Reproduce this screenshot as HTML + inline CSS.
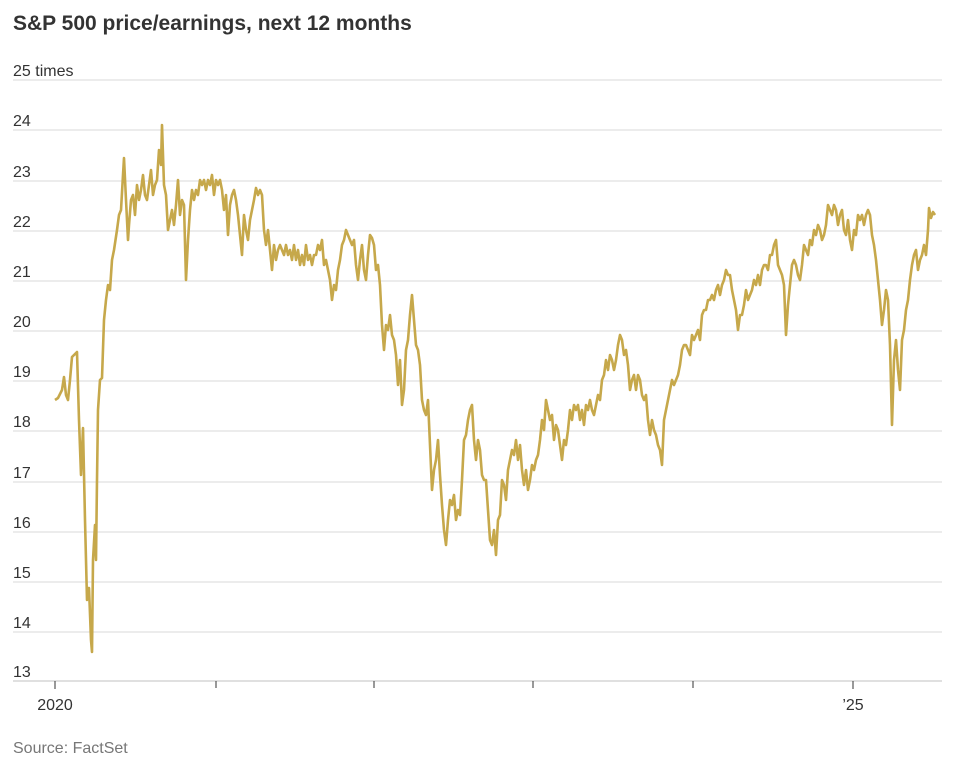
<!DOCTYPE html>
<html><head><meta charset="utf-8"><style>
body{margin:0;background:#fff;width:959px;height:767px;overflow:hidden;font-family:"Liberation Sans",sans-serif}
</style></head><body>
<svg width="959" height="767" xmlns="http://www.w3.org/2000/svg">
<text x="13" y="30" font-family="Liberation Sans, sans-serif" font-weight="bold" font-size="21" fill="#333">S&amp;P 500 price/earnings, next 12 months</text>
<g stroke="#e6e6e6" stroke-width="1.5">
<line x1="13" x2="942" y1="80" y2="80"/><line x1="13" x2="942" y1="130" y2="130"/><line x1="13" x2="942" y1="181" y2="181"/><line x1="13" x2="942" y1="231" y2="231"/><line x1="13" x2="942" y1="281" y2="281"/><line x1="13" x2="942" y1="331" y2="331"/><line x1="13" x2="942" y1="381" y2="381"/><line x1="13" x2="942" y1="431" y2="431"/><line x1="13" x2="942" y1="482" y2="482"/><line x1="13" x2="942" y1="532" y2="532"/><line x1="13" x2="942" y1="582" y2="582"/><line x1="13" x2="942" y1="632" y2="632"/>
</g>
<line x1="13" x2="942" y1="681" y2="681" stroke="#e0e0e0" stroke-width="2"/>
<g stroke="#333" stroke-width="1"><line x1="55" x2="55" y1="681" y2="689"/><line x1="216" x2="216" y1="681" y2="688"/><line x1="374" x2="374" y1="681" y2="688"/><line x1="533" x2="533" y1="681" y2="688"/><line x1="693" x2="693" y1="681" y2="688"/><line x1="853" x2="853" y1="681" y2="689"/></g>
<g font-family="Liberation Sans, sans-serif" font-size="16" fill="#333">
<text x="13" y="76">25 times</text><text x="13" y="126">24</text><text x="13" y="177">23</text><text x="13" y="227">22</text><text x="13" y="277">21</text><text x="13" y="327">20</text><text x="13" y="377">19</text><text x="13" y="427">18</text><text x="13" y="478">17</text><text x="13" y="528">16</text><text x="13" y="578">15</text><text x="13" y="628">14</text><text x="13" y="677">13</text>
<text x="55" y="710" text-anchor="middle">2020</text><text x="853" y="710" text-anchor="middle">’25</text>
<text x="13" y="753" fill="#777">Source: FactSet</text>
</g>
<polyline fill="none" stroke="#c6a84b" stroke-width="2.6" stroke-linejoin="round" points="55,400 58,398 62,390 64,377 66,395 68,400 70,380 72,357 74,355 77,352 79,420 81,475 83,428 85,520 87,600 89,588 91,640 92,652 93,560 95,525 96,560 97,480 98,410 100,380 102,378 104,320 106,300 108,285 110,290 112,260 114,250 117,230 119,215 121,210 123,175 124,158 126,200 128,240 129,225 131,200 133,195 135,215 137,185 139,200 141,190 143,175 145,195 147,200 149,185 151,170 153,195 155,185 157,180 159,150 161,165 162,125 164,185 166,195 168,230 170,220 172,210 174,225 176,205 178,180 180,215 182,200 184,205 186,280 188,240 190,210 192,190 194,200 196,190 198,195 200,180 202,185 204,180 206,190 208,180 210,185 212,175 214,195 216,180 218,185 220,180 222,190 224,210 226,195 228,235 230,205 232,195 234,190 236,200 238,215 240,235 242,255 244,215 246,230 248,240 250,220 252,210 254,200 256,188 258,195 260,190 262,195 264,230 266,245 268,230 270,250 272,270 274,245 276,260 278,250 280,245 282,250 284,255 286,245 288,255 290,250 292,260 294,245 296,260 298,250 300,265 302,255 304,265 306,245 308,260 310,255 312,265 314,255 316,255 318,245 320,250 322,240 324,265 326,260 328,270 330,280 332,300 334,285 336,290 338,270 340,260 342,245 344,240 346,230 348,235 350,240 352,245 354,240 356,265 358,280 360,260 362,245 364,270 366,280 368,255 370,235 372,238 374,245 376,270 378,265 380,285 382,325 384,350 386,325 388,330 390,315 392,335 394,340 396,355 398,385 400,360 402,405 404,390 406,350 408,340 410,315 412,295 414,320 416,345 418,350 420,365 422,400 424,410 426,415 428,400 430,445 432,490 434,470 436,460 438,440 440,475 442,505 444,530 446,545 448,520 450,500 452,505 454,495 456,520 458,510 460,515 462,480 464,440 466,435 468,420 470,410 472,405 474,440 476,460 478,440 480,450 482,475 484,480 486,480 488,510 490,540 492,545 494,530 496,555 498,520 500,515 502,480 504,485 506,500 508,470 510,460 512,450 514,455 516,440 518,460 520,445 522,470 524,485 526,470 528,490 530,480 532,465 534,470 536,460 538,455 540,440 542,420 544,430 546,400 548,410 550,420 552,415 554,440 556,425 558,430 560,445 562,460 564,440 566,445 568,430 570,410 572,420 574,405 576,410 578,405 580,420 582,410 584,425 586,405 588,410 590,400 592,410 594,415 596,405 598,395 600,400 602,380 604,375 606,360 608,370 610,355 612,360 614,370 616,360 618,345 620,335 622,340 624,355 626,350 628,365 630,390 632,380 634,375 636,390 638,375 640,380 642,395 644,400 646,395 648,420 650,435 652,420 654,430 656,435 658,445 660,450 662,465 664,420 666,410 668,400 670,390 672,380 674,385 676,380 678,375 680,365 682,350 684,345 686,345 688,350 690,355 692,335 694,340 696,335 698,330 700,340 702,315 704,310 706,310 708,300 710,300 712,295 714,300 716,290 718,285 720,295 722,285 724,280 726,270 728,275 730,275 732,290 734,300 736,310 738,330 740,315 742,315 744,305 746,290 748,300 750,295 752,290 754,280 756,285 758,275 760,285 762,270 764,265 766,265 768,270 770,255 772,255 774,245 776,240 778,265 780,270 782,275 784,285 786,335 788,305 790,285 792,265 794,260 796,265 798,275 800,280 802,265 804,245 806,250 808,255 810,240 812,245 814,230 816,235 818,225 820,230 822,240 824,235 826,225 828,205 830,210 832,215 834,205 836,210 838,225 840,215 842,210 844,230 846,235 848,220 850,240 852,250 854,230 856,235 858,215 860,220 862,215 864,225 866,215 868,210 870,215 872,235 874,245 876,260 878,280 880,300 882,325 884,310 886,290 888,300 890,345 892,425 894,360 896,340 898,370 900,390 902,340 904,330 906,310 908,300 910,280 912,265 914,255 916,250 918,270 920,260 922,255 924,245 926,255 928,230 929,208 931,218 933,212 935,215"/>
</svg>
</body></html>
